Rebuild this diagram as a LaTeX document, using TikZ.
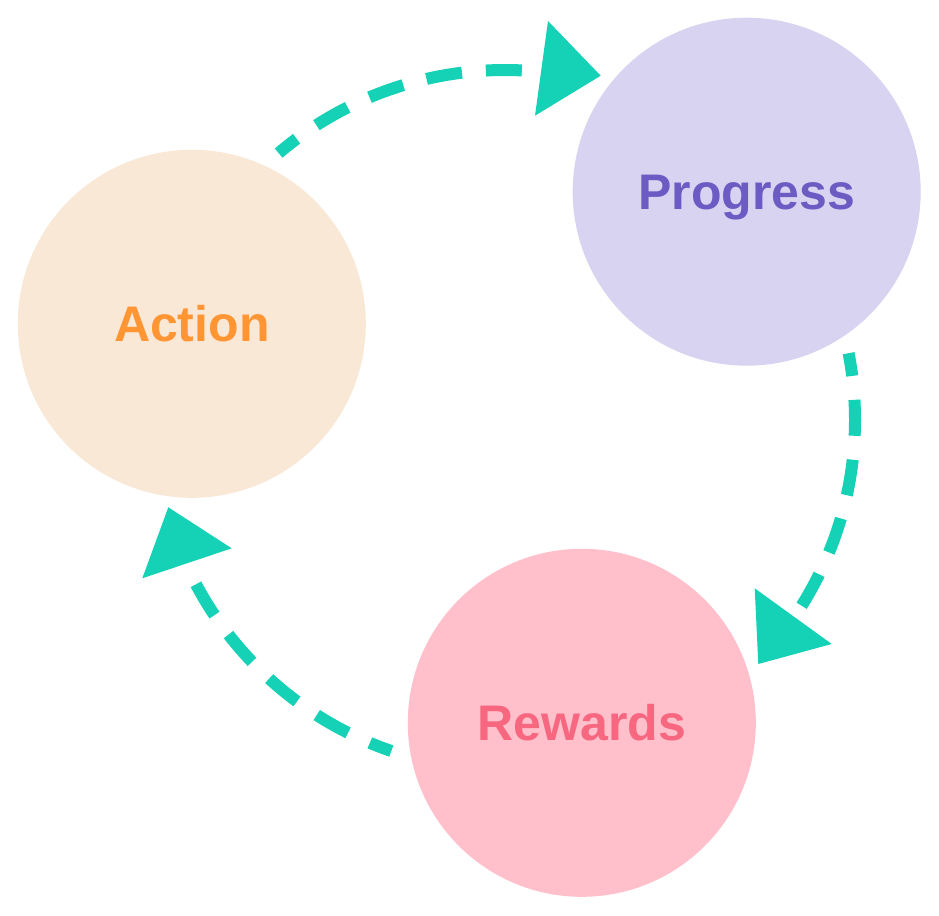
\documentclass[tikz,border=0pt]{standalone}
\usepackage{fontspec}
\setmainfont{Liberation Sans}
\usetikzlibrary{calc}
\definecolor{actfill}{HTML}{FAE8D7}
\definecolor{acttext}{HTML}{FF9533}
\definecolor{progfill}{HTML}{D8D3F1}
\definecolor{progtext}{HTML}{6B5BC3}
\definecolor{rewfill}{HTML}{FFBFCB}
\definecolor{rewtext}{HTML}{F7677F}
\definecolor{flowc}{HTML}{15D1B5}
\tikzset{
  stage/.style={circle, minimum size=348pt, inner sep=0pt,
    font=\fontsize{50}{60}\selectfont\bfseries, text height=35.9pt, text depth=0pt},
  flow/.style={draw=flowc, line width=12pt, dash pattern=on 36pt off 24pt, dash phase=13pt},
  flowhead/.style={fill=flowc}
}
\begin{document}
\begin{tikzpicture}[x=1pt, y=-1pt]
\useasboundingbox (0,0) rectangle (939,915);
\fill[white] (0,0) rectangle (939,915);
\node[stage, fill=actfill, text=acttext] (action) at (191.8,323.8) {Action};
\node[stage, fill=progfill, text=progtext] (progress) at (746.7,191.7) {Progress};
\node[stage, fill=rewfill, text=rewtext] (rewards) at (581.8,722.8) {Rewards};
\coordinate (C) at (505,420);
% arc 1: action -> progress
\draw[flow] (C) ++(-130.3:350) arc[start angle=-130.3, end angle=-84.1, radius=350];
\coordinate (h1a) at (548,21);
\coordinate (h1t) at (600.7,75.7);
\coordinate (h1b) at (535,115.7);
\fill[flowhead] (h1a) -- (h1t) -- (h1b) -- cycle;
% arc 2: progress -> rewards
\draw[flow] (C) ++(-11:350) arc[start angle=-11, end angle=34.2, radius=350];
\coordinate (h2a) at (831.7,644);
\coordinate (h2t) at (758.3,664);
\coordinate (h2b) at (754.7,588.3);
\fill[flowhead] (h2a) -- (h2t) -- (h2b) -- cycle;
% arc 3: rewards -> action
\draw[flow] (C) ++(108.95:350) arc[start angle=108.95, end angle=155.7, radius=350];
\coordinate (h3a) at (142.3,578.3);
\coordinate (h3t) at (168.3,507.3);
\coordinate (h3b) at (231.7,548.3);
\fill[flowhead] (h3a) -- (h3t) -- (h3b) -- cycle;
\end{tikzpicture}
\end{document}
